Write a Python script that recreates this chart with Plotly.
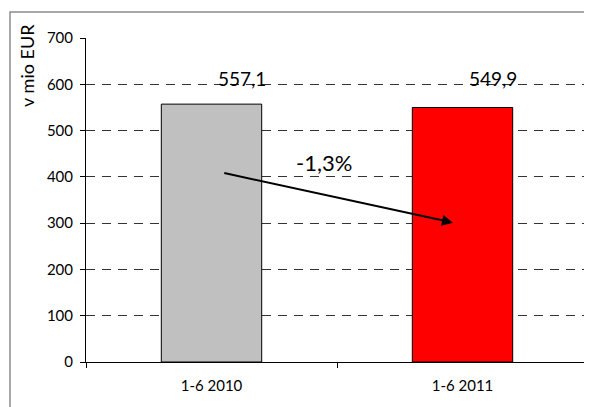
import plotly.graph_objects as go

categories = ["1-6 2010", "1-6 2011"]
values = [557.1, 549.9]
value_labels = ["557,1", "549,9"]
bar_colors = ["#C0C0C0", "#FF0000"]
change_label = "-1,3%"
y_title = "v mio EUR"

FONT = "Lato"

fig = go.Figure()
fig.add_trace(go.Bar(
    x=categories, y=values,
    marker=dict(color=bar_colors, line=dict(color="black", width=1)),
    hoverinfo="skip", showlegend=False,
))

# value labels sitting near the 600 line, offset right
for i, (lab, v) in enumerate(zip(value_labels, values)):
    fig.add_annotation(x=i, y=600, text=lab, showarrow=False,
                       xshift=30, yshift=6,
                       font=dict(family=FONT, size=19, color="black"))

# change arrow
fig.add_annotation(x=0.962, y=301, ax=0.045, ay=409,
                   xref="x", yref="y", axref="x", ayref="y",
                   showarrow=True, arrowhead=2, arrowsize=1.1, arrowwidth=2,
                   arrowcolor="black", text="")
fig.add_annotation(x=0.45, y=432, text=change_label, showarrow=False,
                   font=dict(family=FONT, size=22, color="black"))

# y-axis title at top-left, rotated
fig.add_annotation(xref="paper", yref="paper", x=-0.1175, y=0.914,
                   text=y_title, textangle=-90, showarrow=False,
                   xanchor="center", yanchor="middle",
                   font=dict(family=FONT, size=18, color="black"))

# outer chart border (left and top visible)
fig.add_shape(type="rect", xref="paper", yref="paper",
              x0=-0.1514, x1=1.2, y0=-0.3, y1=1.080,
              line=dict(color="#8c8c8c", width=1.5), layer="below")

fig.update_layout(
    width=584, height=399,
    margin=dict(l=78, r=4, t=30, b=45),
    plot_bgcolor="white", paper_bgcolor="white",
    bargap=0.6,
    font=dict(family=FONT, size=14, color="black"),
    xaxis=dict(type="category", tickson="boundaries", ticks="outside",
               ticklen=5, tickcolor="black", showline=True, linecolor="black",
               linewidth=1, showgrid=False, tickfont=dict(size=15),
               ticklabelstandoff=10, range=[-0.5, 1.5]),
    yaxis=dict(range=[0, 700], dtick=100, ticks="outside", ticklen=5,
               tickcolor="black", showline=True, linecolor="black",
               linewidth=1, showgrid=True, gridcolor="#333",
               griddash="9px,7px", gridwidth=1, zeroline=False,
               tickfont=dict(size=15), ticklabelstandoff=4),
)

fig.write_html("out.html")
